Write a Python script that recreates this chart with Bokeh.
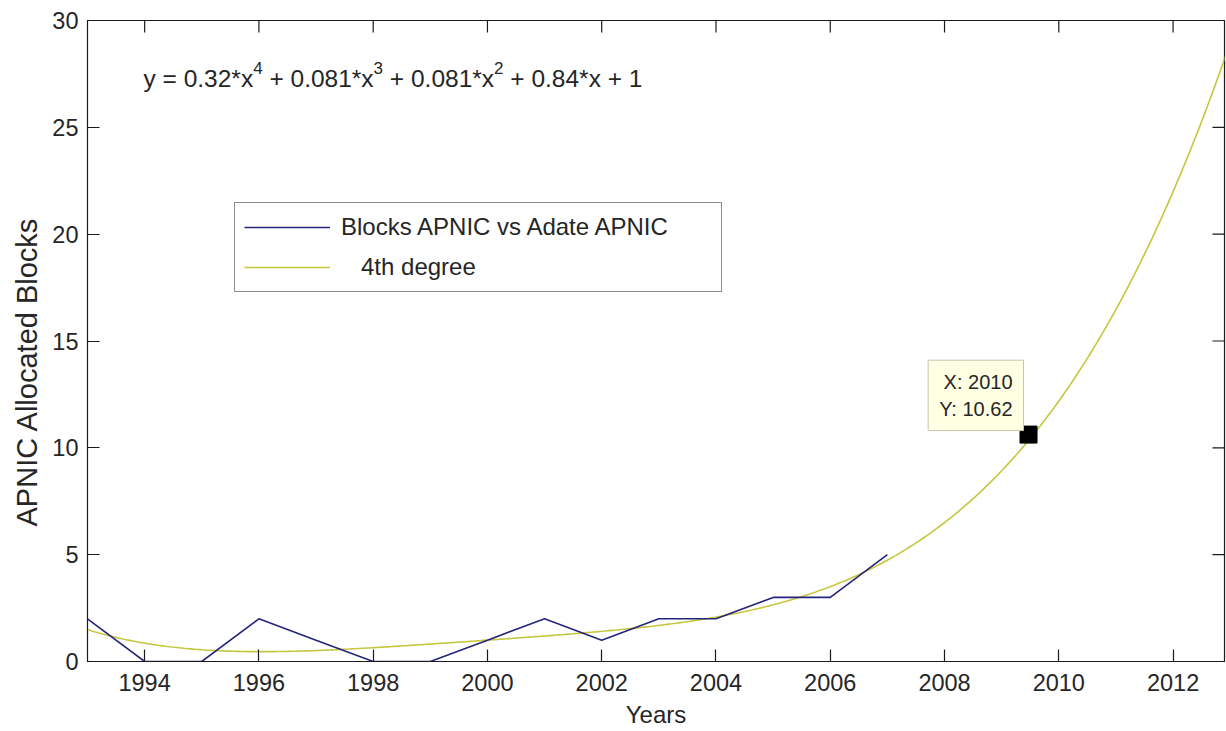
import math
import numpy as np
from bokeh.plotting import figure
from bokeh.models import Range1d, FixedTicker, Legend, LegendItem, Label, Title
from bokeh.embed import file_html
from bokeh.resources import INLINE

# ---- data ----
years = [1993, 1994, 1995, 1996, 1997, 1998, 1999, 2000, 2001, 2002, 2003, 2004, 2005, 2006, 2007]
blocks = [2, 0, 0, 2, 1, 0, 0, 1, 2, 1, 2, 2, 3, 3, 5]
# 4th degree fit as displayed on the chart (x centred and scaled on the data years)
fit_coeffs = [0.32, 0.081, 0.081, 0.84, 1.0]
fit_span = [1993, 2013]
x_ticks = [1994, 1996, 1998, 2000, 2002, 2004, 2006, 2008, 2010, 2012]
y_ticks = [0, 5, 10, 15, 20, 25, 30]
tip_x = [2009.47]
tip_y = [10.62]
tip_text = "X: 2010\nY: 10.62"
# equation pieces: (text, is_superscript)
equation_parts = [("y = 0.32*x", False), ("4", True), (" + 0.081*x", False), ("3", True),
                  (" + 0.081*x", False), ("2", True), (" + 0.84*x + 1", False)]

FONT = "Liberation Sans"
TXT = "#262626"
BLUE = "#25257c"
YEL = "#c6c640"
AX = "#1a1a1a"

X0, X1 = 1993, 2012.9
Y0, Y1 = 0, 30

mu = float(np.mean(years))
sigma = float(np.std(years, ddof=1))
fit_x = np.linspace(fit_span[0], fit_span[1], 500)
fit_y = np.polyval(fit_coeffs, (fit_x - mu) / sigma)

p = figure(width=1226, height=731, output_backend="svg", toolbar_location=None,
           x_range=Range1d(X0, X1), y_range=Range1d(Y0, Y1),
           min_border_left=87, min_border_top=20, min_border_right=2, min_border_bottom=70)
p.xgrid.visible = False
p.ygrid.visible = False
p.outline_line_color = AX
p.outline_line_width = 1.2
p.background_fill_color = "white"
p.border_fill_color = "white"

for ax, ticks in ((p.xaxis[0], x_ticks), (p.yaxis[0], y_ticks)):
    ax.ticker = FixedTicker(ticks=ticks)
    ax.major_tick_in = 12
    ax.major_tick_out = 0
    ax.minor_tick_line_color = None
    ax.axis_line_color = AX
    ax.major_tick_line_color = AX
    ax.major_tick_line_width = 1.2
    ax.major_label_text_font = FONT
    ax.major_label_text_font_size = "23.5px"
    ax.major_label_text_color = TXT
p.xaxis[0].major_label_standoff = 12
p.yaxis[0].major_label_standoff = 9

xa = p.xaxis[0]
xa.axis_label = "Years"
xa.axis_label_text_font = FONT
xa.axis_label_text_font_size = "24px"
xa.axis_label_text_font_style = "normal"
xa.axis_label_text_color = TXT
xa.axis_label_standoff = 7

p.add_layout(Title(text="APNIC Allocated Blocks", align="left", offset=135,
                   text_font=FONT, text_font_size="29px", text_font_style="normal",
                   text_color=TXT, standoff=13), "left")

# inward ticks on the top and right edges of the box
p.scatter(x_ticks, [Y1] * len(x_ticks), marker="dash", angle=math.pi / 2, size=24,
          line_color=AX, line_width=1.2)
p.scatter([X1] * len(y_ticks), y_ticks, marker="dash", size=24,
          line_color=AX, line_width=1.2)

r_fit = p.line(fit_x, fit_y, line_color=YEL, line_width=1.6)
r_data = p.line(years, blocks, line_color=BLUE, line_width=1.6)
p.scatter(tip_x, tip_y, marker="square", size=17, color="black")

legend = Legend(items=[LegendItem(label="Blocks APNIC vs Adate APNIC", renderers=[r_data]),
                       LegendItem(label="\u00a0\u00a0\u00a04th degree", renderers=[r_fit])],
                location=(147, 369), orientation="vertical",
                border_line_color=AX, border_line_width=1.2,
                background_fill_color="white", background_fill_alpha=1.0,
                padding=9, spacing=10, margin=0,
                label_height=30, glyph_height=30, glyph_width=86,
                label_standoff=11, label_width=371,
                label_text_font=FONT, label_text_font_size="24px", label_text_color=TXT)
p.add_layout(legend)

# equation with raised exponents
W = {'y': 0.5, ' ': 0.278, '=': 0.584, '0': 0.556, '1': 0.556, '2': 0.556, '3': 0.556,
     '4': 0.556, '8': 0.556, '.': 0.278, '*': 0.389, 'x': 0.5, '+': 0.584}
F_MAIN, F_SUP = 24.5, 17.0
off = 0.0
for txt, sup in equation_parts:
    fs = F_SUP if sup else F_MAIN
    lead = len(txt) - len(txt.lstrip())
    off += lead * W[' '] * fs
    body = txt.strip()
    p.add_layout(Label(x=1993.98, y=27.28, x_offset=off, y_offset=11 if sup else 0,
                       text=body, text_align="left", text_baseline="alphabetic",
                       text_font=FONT, text_font_size=f"{fs}px", text_color=TXT))
    off += sum(W[c] for c in body) * fs
    trail = len(txt) - len(txt.rstrip())
    off += trail * W[' '] * fs

tip = Label(x=tip_x[0], y=tip_y[0], x_offset=-5, y_offset=4, text=tip_text,
            text_align="right", text_baseline="bottom",
            text_font=FONT, text_font_size="20px", text_color=TXT,
            background_fill_color="#ffffe3", border_line_color="#c6c6ac", border_line_width=1,
            padding=11)
p.add_layout(tip)

open("out.html", "w").write(file_html(p, INLINE))
